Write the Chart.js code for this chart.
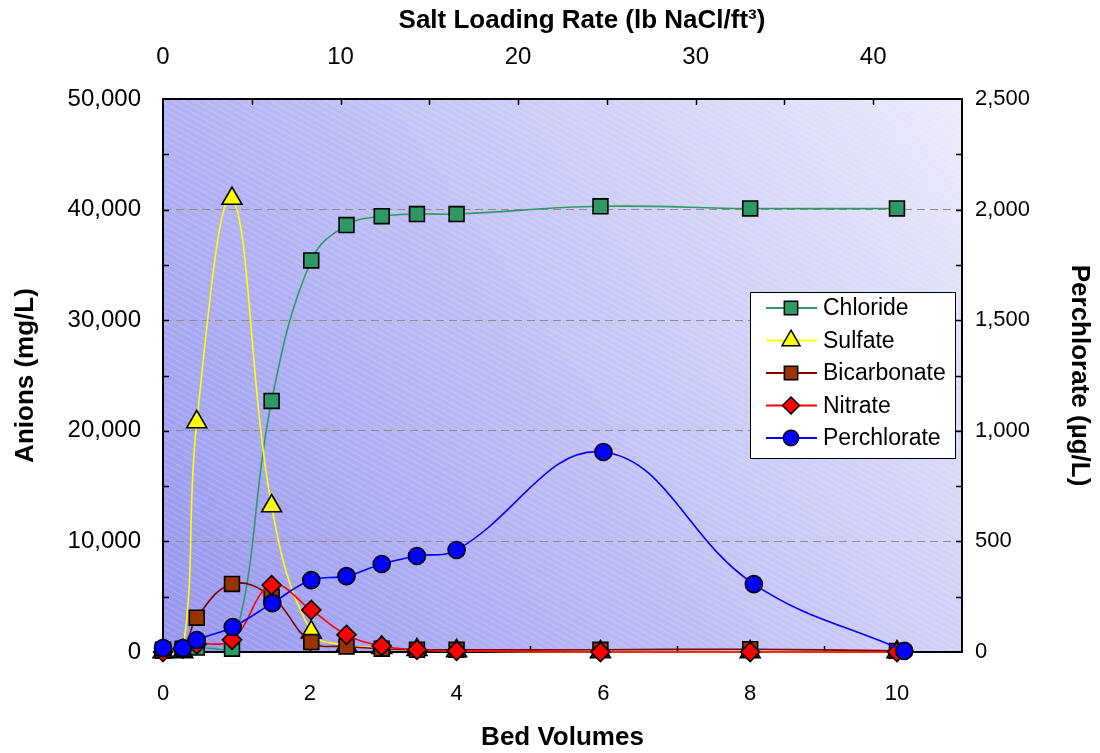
<!DOCTYPE html>
<html>
<head>
<meta charset="utf-8">
<script src="https://cdn.jsdelivr.net/npm/chart.js@4.4.1/dist/chart.umd.min.js"></script>
<style>
  html, body { margin: 0; padding: 0; background: #fff; }
  #wrap { width: 1100px; height: 753px; }
</style>
</head>
<body>
<div id="wrap"><canvas id="lineChart" width="1100" height="753"></canvas></div>
<script>
    // bed volumes where the anions were sampled
    var bedVolumes = [0, 0.27, 0.46, 0.94, 1.48, 2.02, 2.5, 2.98, 3.46, 4.0, 5.96, 8.0, 10.0];
    var perchlorateBV = [0, 0.27, 0.46, 0.95, 1.49, 2.02, 2.5, 2.98, 3.46, 4.0, 6.0, 8.05, 10.1];

    // mg/L
    var chloride = [200, 200, 400, 300, 22700, 35400, 38600, 39400, 39600, 39600, 40300, 40100, 40100];
    var sulfate = [0, 0, 20800, 41000, 13200, 1800, 600, 400, 200, 100, 0, 0, 0];
    var bicarbonate = [100, 300, 3100, 6150, 5000, 900, 500, 300, 200, 200, 200, 250, 100];
    var nitrate = [0, 300, 700, 1100, 6050, 3800, 1550, 550, 200, 100, 0, 0, 0];
    // ug/L
    var perchlorate = [18, 18, 54, 113, 221, 325, 343, 398, 434, 461, 904, 307, 5];

    var bvTicks = [0, 2, 4, 6, 8, 10];
    var saltTicks = [0, 10, 20, 30, 40];
    var anionTicks = [0, 10000, 20000, 30000, 40000, 50000];
    var perchTicks = [0, 500, 1000, 1500, 2000, 2500];

    function pts(xs, ys) {
        return ys.map(function (v, i) { return { x: xs[i], y: v }; });
    }
    function fmt(v) { return Number(v).toLocaleString('en-US'); }

    var fam = 'Arial, "Liberation Sans"';
    var tickFont = { family: fam, size: 22 };
    var titleFont = { family: fam, size: 26, weight: 'bold' };

    // gradient + hatching behind plot area
    var plotBg = {
        id: 'plotBg',
        beforeDraw: function (chart) {
            var c = chart.ctx, a = chart.chartArea;
            c.save();
            var g = c.createLinearGradient(a.left, a.bottom, a.right, a.top);
            g.addColorStop(0, '#9696ef');
            g.addColorStop(0.5, '#c2c2f6');
            g.addColorStop(1, '#ebebfc');
            c.fillStyle = g;
            c.fillRect(a.left, a.top, a.right - a.left, a.bottom - a.top);
            c.beginPath();
            c.rect(a.left, a.top, a.right - a.left, a.bottom - a.top);
            c.clip();
            c.strokeStyle = 'rgba(255,255,255,0.2)';
            c.lineWidth = 1;
            var h = a.bottom - a.top;
            for (var x = a.left - h * 1.9; x < a.right; x += 11) {
                c.beginPath();
                c.moveTo(x, a.top);
                c.lineTo(x + h * 1.8, a.bottom);
                c.stroke();
            }
            c.restore();
        },
        beforeDatasetsDraw: function (chart) {
            var c = chart.ctx, a = chart.chartArea, s = chart.scales;
            c.save();
            c.strokeStyle = '#000';
            c.lineWidth = 2;
            c.strokeRect(a.left, a.top, a.right - a.left, a.bottom - a.top);
            c.lineWidth = 1.5;
            c.beginPath();
            var v, p;
            for (v = 5000; v < 50000; v += 5000) {
                p = Math.round(s.y.getPixelForValue(v)) + 0.5;
                c.moveTo(a.left, p); c.lineTo(a.left + 6, p);
            }
            for (v = 250; v < 2500; v += 250) {
                p = Math.round(s.y2.getPixelForValue(v)) + 0.5;
                c.moveTo(a.right, p); c.lineTo(a.right - 6, p);
            }
            for (v = 1; v <= 10; v += 1) {
                p = Math.round(s.x.getPixelForValue(v)) + 0.5;
                c.moveTo(p, a.bottom); c.lineTo(p, a.bottom - 6);
            }
            for (v = 5; v <= 40; v += 5) {
                p = Math.round(s.x2.getPixelForValue(v)) + 0.5;
                c.moveTo(p, a.top); c.lineTo(p, a.top + 6);
            }
            c.stroke();
            c.restore();
        }
    };

    // legend with a line through each marker
    var legendBox = {
        id: 'legendBox',
        afterDatasetsDraw: function (chart) {
            var c = chart.ctx, a = chart.chartArea;
            var x0 = a.right - 212, y0 = a.top + 193, w = 205, h = 166;
            c.save();
            c.fillStyle = '#fff';
            c.fillRect(x0, y0, w, h);
            c.strokeStyle = '#000';
            c.lineWidth = 1;
            c.strokeRect(x0 + 0.5, y0 + 0.5, w, h);
            c.font = '23px ' + fam;
            c.textBaseline = 'middle';
            chart.data.datasets.forEach(function (ds, i) {
                var y = y0 + 16 + i * 32.5;
                c.strokeStyle = ds.borderColor;
                c.lineWidth = 2;
                c.beginPath();
                c.moveTo(x0 + 16, y); c.lineTo(x0 + 67, y);
                c.stroke();
                c.fillStyle = ds.pointBackgroundColor;
                c.strokeStyle = '#000';
                c.lineWidth = 1.5;
                Chart.helpers.drawPoint(c, { pointStyle: ds.pointStyle, radius: ds.pointRadius * 0.9, rotation: 0, borderWidth: 1.5 }, x0 + 41, y);
                c.fillStyle = '#000';
                c.fillText(ds.label, x0 + 73, y + 1);
            });
            c.restore();
        }
    };

    function series(label, data, line, fill, style, radius, axis, order) {
        return {
            label: label,
            data: data,
            yAxisID: axis,
            borderColor: line,
            borderWidth: 1.6,
            backgroundColor: fill,
            pointBackgroundColor: fill,
            pointBorderColor: '#000',
            pointBorderWidth: 1.6,
            pointStyle: style,
            pointRadius: radius,
            pointHoverRadius: radius,
            tension: 0.4,
            fill: false,
            clip: false,
            order: order
        };
    }

    var ctx = document.getElementById('lineChart').getContext('2d');
    var myChart = new Chart(ctx, {
        type: 'line',
        data: {
            datasets: [
                series('Chloride', pts(bedVolumes, chloride), '#2f9966', '#2f9966', 'rect', 10.5, 'y', 4),
                series('Sulfate', pts(bedVolumes, sulfate), '#ffff00', '#ffff00', 'triangle', 11.5, 'y', 3),
                series('Bicarbonate', pts(bedVolumes, bicarbonate), '#800000', '#993300', 'rect', 10.5, 'y', 2),
                series('Nitrate', pts(bedVolumes, nitrate), '#ff0000', '#ff0000', 'rectRot', 9.5, 'y', 1),
                series('Perchlorate', pts(perchlorateBV, perchlorate), '#0000ff', '#0000ff', 'circle', 8.5, 'y2', 0)
            ]
        },
        options: {
            responsive: false,
            animation: false,
            events: [],
            layout: { padding: 0 },
            plugins: {
                legend: { display: false },
                tooltip: { enabled: false }
            },
            scales: {
                x: {
                    type: 'linear', position: 'bottom', min: 0, max: 10.886,
                    afterFit: function (s) { s.height = 101; },
                    afterBuildTicks: function (s) { s.ticks = bvTicks.map(function (v) { return { value: v }; }); },
                    grid: { display: false },
                    border: { display: false },
                    ticks: { font: tickFont, color: '#000', padding: 21, maxRotation: 0 },
                    title: { display: true, text: 'Bed Volumes', font: titleFont, color: '#000', padding: { top: 0, bottom: 0 } }
                },
                x2: {
                    type: 'linear', position: 'top', min: 0, max: 45,
                    afterFit: function (s) { s.height = 99; },
                    afterBuildTicks: function (s) { s.ticks = saltTicks.map(function (v) { return { value: v }; }); },
                    grid: { display: false },
                    border: { display: false },
                    ticks: { font: { family: fam, size: 24 }, color: '#000', padding: 19, maxRotation: 0 },
                    // leading spaces nudge the centred title right, as in the original
                    title: { display: true, text: '\u2003\u2002Salt Loading Rate (lb NaCl/ft\u00B3)', font: titleFont, color: '#000', padding: { top: 5, bottom: 0 } }
                },
                y: {
                    type: 'linear', position: 'left', min: 0, max: 50000,
                    afterFit: function (s) { s.width = 163; },
                    afterBuildTicks: function (s) { s.ticks = anionTicks.map(function (v) { return { value: v }; }); },
                    grid: {
                        drawTicks: false,
                        lineWidth: 1,
                        color: function (c) { return (c.tick && c.tick.value > 0 && c.tick.value < 50000) ? '#8c8c8c' : 'rgba(0,0,0,0)'; }
                    },
                    border: { display: false, dash: [8, 5] },
                    ticks: { font: { family: fam, size: 24 }, color: '#000', padding: 22, callback: fmt },
                    title: { display: true, text: 'Anions (mg/L)', font: titleFont, color: '#000', padding: { top: 10, bottom: 0 } }
                },
                y2: {
                    type: 'linear', position: 'right', min: 0, max: 2500,
                    afterFit: function (s) { s.width = 138; },
                    afterBuildTicks: function (s) { s.ticks = perchTicks.map(function (v) { return { value: v }; }); },
                    grid: { display: false, drawTicks: false },
                    border: { display: false },
                    ticks: { font: tickFont, color: '#000', padding: 13, callback: fmt },
                    title: { display: true, text: 'Perchlorate (\u00B5g/L)', font: titleFont, color: '#000', padding: { top: 5, bottom: 0 } }
                }
            }
        },
        plugins: [plotBg, legendBox]
    });
</script>
</body>
</html>
